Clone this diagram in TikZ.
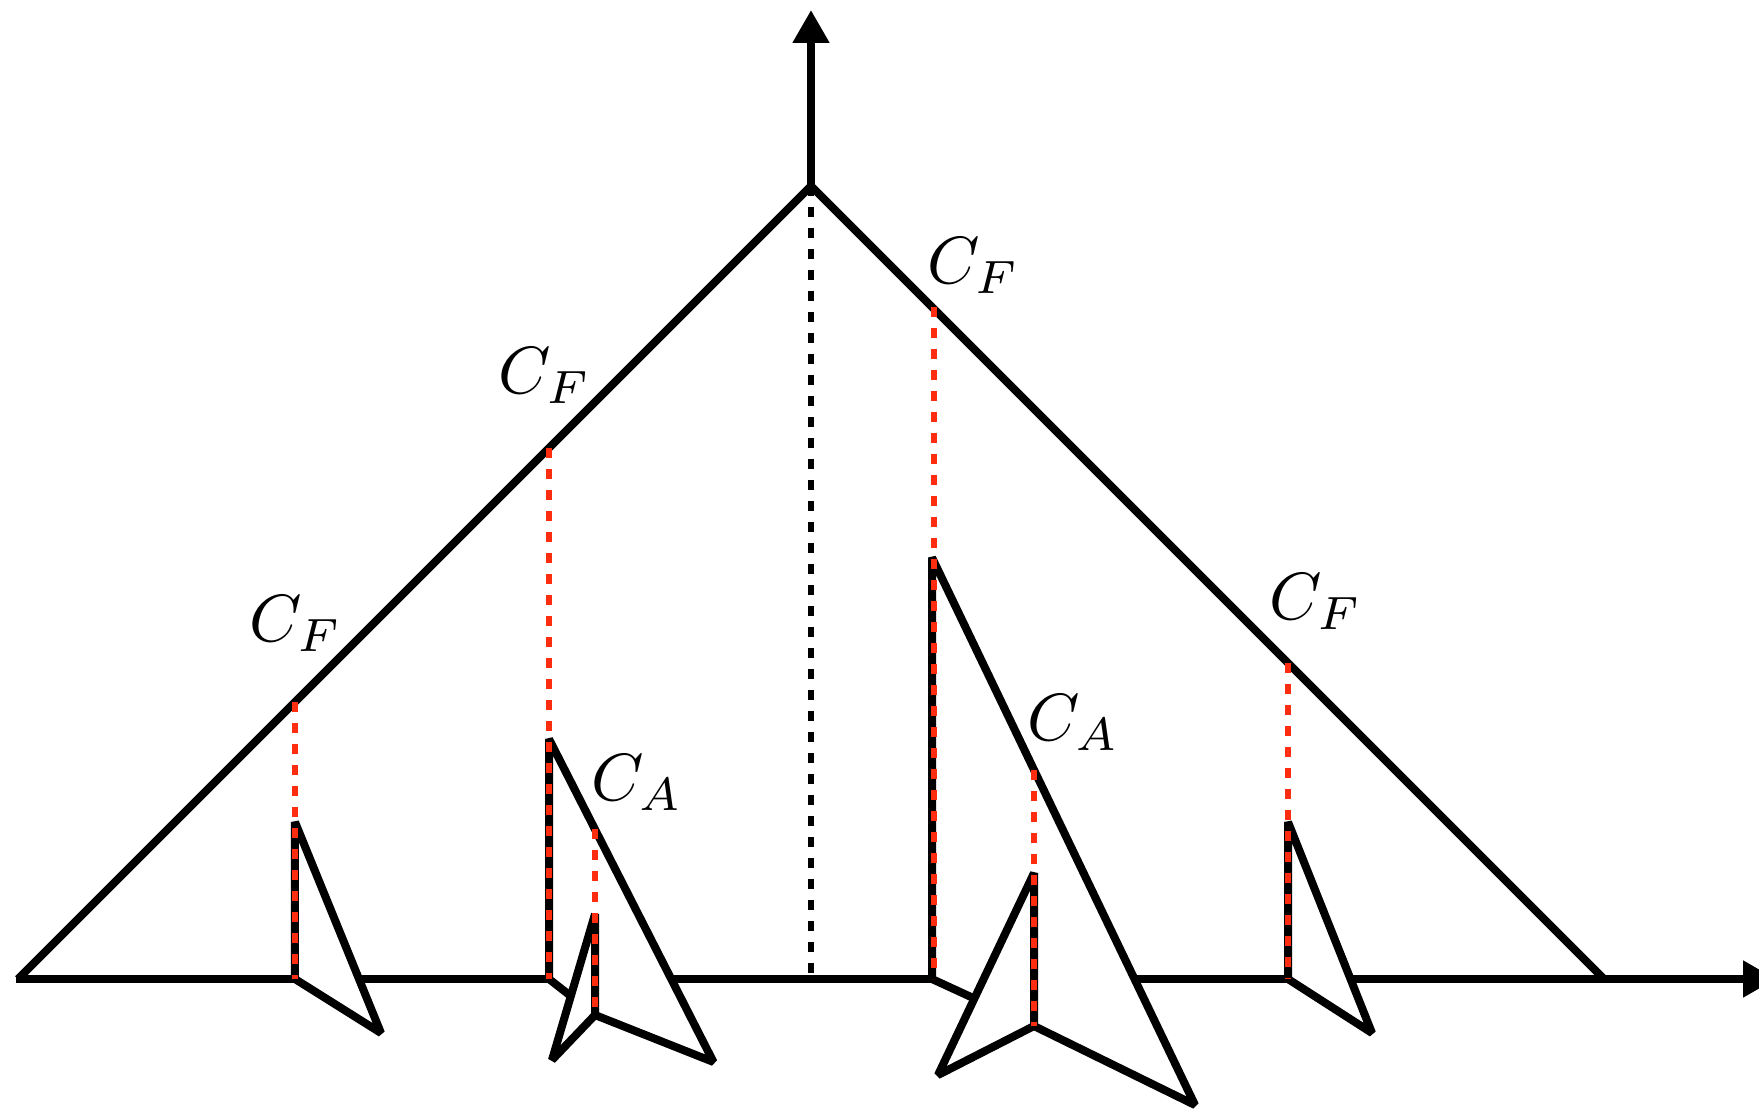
\documentclass[tikz,border=0pt]{standalone}
\usetikzlibrary{arrows.meta}
\definecolor{cutred}{RGB}{255,45,15}

\begin{document}
\begin{tikzpicture}[>={Triangle[length=3.3mm,width=3.5mm]},
  every node/.style={inner sep=1pt,scale=1.9},
  edge/.style={line width=0.8mm},
  wing/.style={edge,fill=white,line join=bevel},
  cut/.style={line width=0.55mm,dash pattern=on 1mm off 1.1mm}]
  \useasboundingbox (-8.11,-1.29) rectangle (9.48,9.79);
  \coordinate (O) at (0,0);
  \coordinate (T) at (0,7.93);
  \coordinate (L) at (-7.93,0);
  \coordinate (R) at (7.93,0);
  \coordinate (xstart) at (-7.95,0);
  \coordinate (xend) at (9.65,0);
  \coordinate (yend) at (0,9.69);
  \draw[edge,->] (xstart) -- (xend);
  \draw[edge,->] (T) -- (yend);
  \draw[edge] (L) -- (T) -- (R);
  \draw[cut] (T) -- (O);
  \draw[wing] (-5.16,1.57) -- (-4.30,-0.54) -- (-5.16,0) -- cycle;
  \draw[wing] (4.77,1.57) -- (5.61,-0.54) -- (4.77,0) -- cycle;
  \draw[wing] (-2.62,2.40) -- (-0.975,-0.83) -- (-2.16,-0.36) -- (-2.62,0) -- cycle;
  \draw[wing] (-2.16,0.65) -- (-2.16,-0.36) -- (-2.59,-0.81) -- cycle;
  \draw[wing] (1.21,4.215) -- (3.84,-1.26) -- (2.23,-0.47) -- (1.21,0) -- cycle;
  \draw[wing] (2.23,1.06) -- (2.23,-0.47) -- (1.27,-0.96) -- cycle;
  \foreach \x/\ytop/\ybot in {-5.16/2.77/0,-2.62/5.31/0,-2.16/1.50/-0.36,1.23/6.72/0,2.23/2.09/-0.47,4.77/3.16/0}{
    \draw[cut,cutred] (\x,\ytop) -- (\x,\ybot);
  }
  \node (cf1) at (-5.15,3.55) {$C_F$};
  \node (cf2) at (-2.66,6.03) {$C_F$};
  \node (cf3) at (1.625,7.135) {$C_F$};
  \node (cf4) at (5.05,3.77) {$C_F$};
  \node (ca2) at (-1.74,1.965) {$C_A$};
  \node (ca3) at (2.625,2.565) {$C_A$};
\end{tikzpicture}
\end{document}
